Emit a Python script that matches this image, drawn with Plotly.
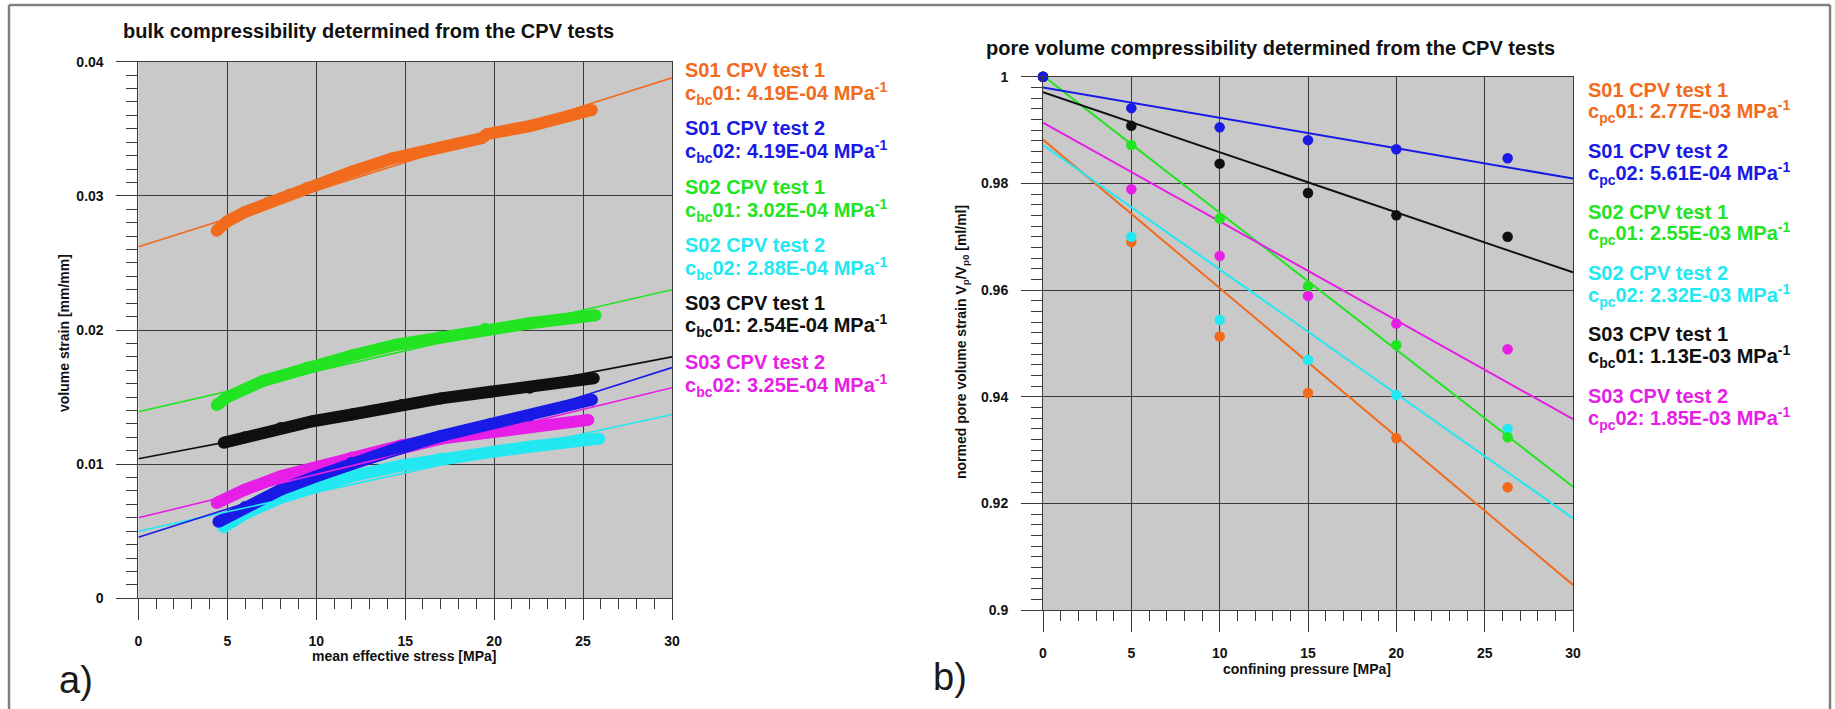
import plotly.graph_objects as go

W, H = 1835, 709
FONT = "Liberation Sans, Arial, sans-serif"

# ---------------- data: panel a) bulk compressibility ----------------
series_names = ["S01 CPV test 1", "S01 CPV test 2", "S02 CPV test 1",
                "S02 CPV test 2", "S03 CPV test 1", "S03 CPV test 2"]
series_colors = ["#F26B1D", "#1A1AE6", "#22E422", "#22E8F2", "#101010", "#E61EE6"]

bulk_labels = ["c<sub>bc</sub>01: 4.19E-04 MPa<sup>-1</sup>",
               "c<sub>bc</sub>02: 4.19E-04 MPa<sup>-1</sup>",
               "c<sub>bc</sub>01: 3.02E-04 MPa<sup>-1</sup>",
               "c<sub>bc</sub>02: 2.88E-04 MPa<sup>-1</sup>",
               "c<sub>bc</sub>01: 2.54E-04 MPa<sup>-1</sup>",
               "c<sub>bc</sub>02: 3.25E-04 MPa<sup>-1</sup>"]

# measured curves (mean effective stress [MPa], volume strain [mm/mm])
s01t1_x = [4.4, 5.0, 6.0, 7.3, 8.5, 9.5, 12.0, 14.3, 17.0, 19.3, 19.6, 22.0, 25.5]
s01t1_y = [0.0274, 0.0281, 0.0288, 0.0295, 0.0301, 0.0306, 0.0318, 0.0328, 0.0336, 0.0343, 0.0346, 0.0352, 0.0364]
s01t2_x = [4.5, 6.0, 8.0, 9.8, 12.0, 14.8, 17.0, 19.8, 22.0, 25.5]
s01t2_y = [0.0057, 0.0068, 0.0081, 0.0090, 0.0101, 0.0113, 0.0121, 0.0130, 0.0136, 0.0148]
s02t1_x = [4.4, 5.0, 7.0, 9.5, 12.0, 14.5, 17.0, 19.5, 22.0, 25.7]
s02t1_y = [0.0144, 0.0150, 0.0162, 0.0172, 0.0181, 0.0189, 0.0195, 0.0201, 0.0205, 0.0211]
s02t2_x = [4.8, 6.0, 8.0, 9.8, 12.0, 14.8, 17.0, 19.8, 22.0, 25.9]
s02t2_y = [0.0053, 0.0063, 0.0075, 0.0083, 0.0091, 0.0099, 0.0104, 0.0109, 0.0113, 0.0119]
s03t1_x = [4.8, 6.0, 8.0, 9.8, 12.0, 14.8, 17.0, 19.8, 22.0, 25.6]
s03t1_y = [0.0116, 0.0120, 0.0127, 0.0132, 0.0137, 0.0144, 0.0149, 0.0154, 0.0157, 0.0164]
s03t2_x = [4.4, 6.0, 8.0, 9.8, 12.0, 14.8, 17.0, 19.8, 22.0, 25.3]
s03t2_y = [0.0071, 0.0081, 0.0091, 0.0097, 0.0105, 0.0114, 0.0119, 0.0124, 0.0128, 0.0133]

bulk_x = [s01t1_x, s01t2_x, s02t1_x, s02t2_x, s03t1_x, s03t2_x]
bulk_y = [s01t1_y, s01t2_y, s02t1_y, s02t2_y, s03t1_y, s03t2_y]

# regression lines read at 0 and 30 MPa
fit_x = [0, 30]
bulk_fit_start = [0.0262, 0.00455, 0.0139, 0.0050, 0.0104, 0.0060]
bulk_fit_end = [0.0388, 0.0172, 0.0230, 0.0137, 0.0180, 0.0157]

# ---------------- data: panel b) pore volume compressibility ----------------
pore_labels = ["c<sub>pc</sub>01: 2.77E-03 MPa<sup>-1</sup>",
               "c<sub>pc</sub>02: 5.61E-04 MPa<sup>-1</sup>",
               "c<sub>pc</sub>01: 2.55E-03 MPa<sup>-1</sup>",
               "c<sub>pc</sub>02: 2.32E-03 MPa<sup>-1</sup>",
               "c<sub>bc</sub>01: 1.13E-03 MPa<sup>-1</sup>",
               "c<sub>pc</sub>02: 1.85E-03 MPa<sup>-1</sup>"]

pressure = [0, 5, 10, 15, 20, 26.3]
pv_s01t1 = [1.0, 0.9690, 0.9513, 0.9407, 0.9322, 0.9230]
pv_s01t2 = [1.0, 0.9941, 0.9905, 0.9881, 0.9864, 0.9847]
pv_s02t1 = [1.0, 0.9872, 0.9734, 0.9607, 0.9497, 0.9324]
pv_s02t2 = [1.0, 0.9700, 0.9544, 0.9469, 0.9403, 0.9340]
pv_s03t1 = [1.0, 0.9908, 0.9837, 0.9782, 0.9740, 0.9700]
pv_s03t2 = [1.0, 0.9789, 0.9664, 0.9589, 0.9537, 0.9489]
pore_y = [pv_s01t1, pv_s01t2, pv_s02t1, pv_s02t2, pv_s03t1, pv_s03t2]

pore_fit_start = [0.9882, 0.9980, 1.0002, 0.9872, 0.9971, 0.9914]
pore_fit_end = [0.9047, 0.9809, 0.9231, 0.9172, 0.9633, 0.9358]

# ---------------- helpers ----------------
def px(x):
    return x / W

def py(y):
    return 1 - y / H

fig = go.Figure()

draw_order_a = [0, 2, 4, 3, 5, 1]
for i in draw_order_a:
    fig.add_trace(go.Scatter(
        x=bulk_x[i], y=bulk_y[i], mode="lines+markers",
        line=dict(color=series_colors[i], width=12),
        marker=dict(color=series_colors[i], size=12),
        xaxis="x", yaxis="y", showlegend=False, hoverinfo="skip"))
for i in draw_order_a:
    fig.add_trace(go.Scatter(
        x=fit_x, y=[bulk_fit_start[i], bulk_fit_end[i]], mode="lines",
        line=dict(color=series_colors[i], width=1.6),
        xaxis="x", yaxis="y", showlegend=False, hoverinfo="skip"))

draw_order_b = [0, 3, 2, 5, 4, 1]
for i in draw_order_b:
    fig.add_trace(go.Scatter(
        x=fit_x, y=[pore_fit_start[i], pore_fit_end[i]], mode="lines",
        line=dict(color=series_colors[i], width=2),
        xaxis="x2", yaxis="y2", showlegend=False, hoverinfo="skip"))
for i in draw_order_b:
    fig.add_trace(go.Scatter(
        x=pressure, y=pore_y[i], mode="markers",
        marker=dict(color=series_colors[i], size=10.5),
        cliponaxis=False,
        xaxis="x2", yaxis="y2", showlegend=False, hoverinfo="skip"))

tickfont = dict(family=FONT, size=14, color="#111111", weight="bold")
AX = "#3a3a3a"

def xaxis_cfg(domain, anchor):
    return dict(domain=domain, anchor=anchor, range=[0, 30], dtick=5, tick0=0,
                ticks="outside", ticklen=21, tickwidth=1, tickcolor=AX,
                minor=dict(dtick=1, ticks="outside", ticklen=10, tickcolor=AX, tickwidth=1, showgrid=False),
                showgrid=True, gridcolor=AX, gridwidth=1,
                showline=True, linecolor=AX, linewidth=1, mirror=True,
                zeroline=False, tickfont=tickfont, ticklabelstandoff=9,
                automargin=False)

def yaxis_cfg(domain, anchor, rng, dtick, mdtick):
    return dict(domain=domain, anchor=anchor, range=rng, dtick=dtick, tick0=0,
                ticks="outside", ticklen=21, tickwidth=1, tickcolor=AX,
                minor=dict(dtick=mdtick, ticks="outside", ticklen=11, tickcolor=AX, tickwidth=1, showgrid=False),
                showgrid=True, gridcolor=AX, gridwidth=1,
                showline=True, linecolor=AX, linewidth=1, mirror=True,
                zeroline=False, tickfont=tickfont, ticklabelstandoff=10,
                automargin=False)

fig.update_layout(
    width=W, height=H, autosize=False,
    margin=dict(l=0, r=0, t=0, b=0, pad=0),
    paper_bgcolor="white", plot_bgcolor="#C9C9C9",
    font=dict(family=FONT),
    xaxis=xaxis_cfg([px(138.4), px(672)], "y"),
    yaxis=yaxis_cfg([py(598.3), py(61.7)], "x", [0, 0.04], 0.01, 0.001),
    xaxis2=xaxis_cfg([px(1043), px(1573)], "y2"),
    yaxis2=yaxis_cfg([py(610), py(76.7)], "x2", [0.9, 1.0], 0.02, 0.002),
)
fig.layout.yaxis.tickvals = [0, 0.01, 0.02, 0.03, 0.04]
fig.layout.yaxis.ticktext = ["0", "0.01", "0.02", "0.03", "0.04"]
fig.layout.yaxis2.tickvals = [0.9, 0.92, 0.94, 0.96, 0.98, 1.0]
fig.layout.yaxis2.ticktext = ["0.9", "0.92", "0.94", "0.96", "0.98", "1"]

ann = []
def text(x, y, s, size, color="#111111", bold=True, xanchor="left", angle=0):
    ann.append(dict(x=px(x), y=py(y), xref="paper", yref="paper", text=s,
                    showarrow=False, xanchor=xanchor, yanchor="middle", textangle=angle,
                    font=dict(family=FONT, size=size, color=color,
                              weight="bold" if bold else "normal")))

# titles
text(368, 31, "bulk compressibility determined from the CPV tests", 20, xanchor="center")
text(1270, 48, "pore volume compressibility determined from the CPV tests", 20, xanchor="center")
# axis titles
text(404, 656, "mean effective stress [MPa]", 14, xanchor="center")
text(1307, 669, "confining pressure [MPa]", 14, xanchor="center")
text(64, 333, "volume strain [mm/mm]", 14, xanchor="center", angle=-90)
text(962, 342, "normed pore volume strain V<sub>p</sub>/V<sub>p0</sub> [ml/ml]", 14, xanchor="center", angle=-90)
# panel letters
text(76, 680, "a)", 38, color="#1a1a1a", bold=False, xanchor="center")
text(950, 677, "b)", 38, color="#1a1a1a", bold=False, xanchor="center")

# legends
left_y1 = [70, 128, 187, 245, 303, 362]
right_y1 = [90, 151, 212, 273, 334, 396]
for i in range(6):
    text(683, left_y1[i], series_names[i], 20, color=series_colors[i])
    text(683, left_y1[i] + 23, bulk_labels[i], 20, color=series_colors[i])
    text(1586, right_y1[i], series_names[i], 20, color=series_colors[i])
    text(1586, right_y1[i] + 22, pore_labels[i], 20, color=series_colors[i])

fig.update_layout(annotations=ann)

# outer frame
frame = dict(color="#808080", width=2.5)
fig.update_layout(shapes=[
    dict(type="line", xref="paper", yref="paper", x0=px(9), x1=px(1830), y0=py(5), y1=py(5), line=frame),
    dict(type="line", xref="paper", yref="paper", x0=px(9), x1=px(9), y0=py(5), y1=py(712), line=frame),
    dict(type="line", xref="paper", yref="paper", x0=px(1830), x1=px(1830), y0=py(5), y1=py(712), line=frame),
])

post = ("document.documentElement.style.margin='0';document.documentElement.style.overflow='hidden';"
        "document.body.style.margin='0';document.body.style.padding='0';"
        "document.body.style.overflow='hidden';"
        "var gd=document.getElementById('{plot_id}');"
        "gd.style.position='fixed';gd.style.left='0px';gd.style.top='0px';")
fig.write_html("out.html", post_script=post, config={"displayModeBar": False})
